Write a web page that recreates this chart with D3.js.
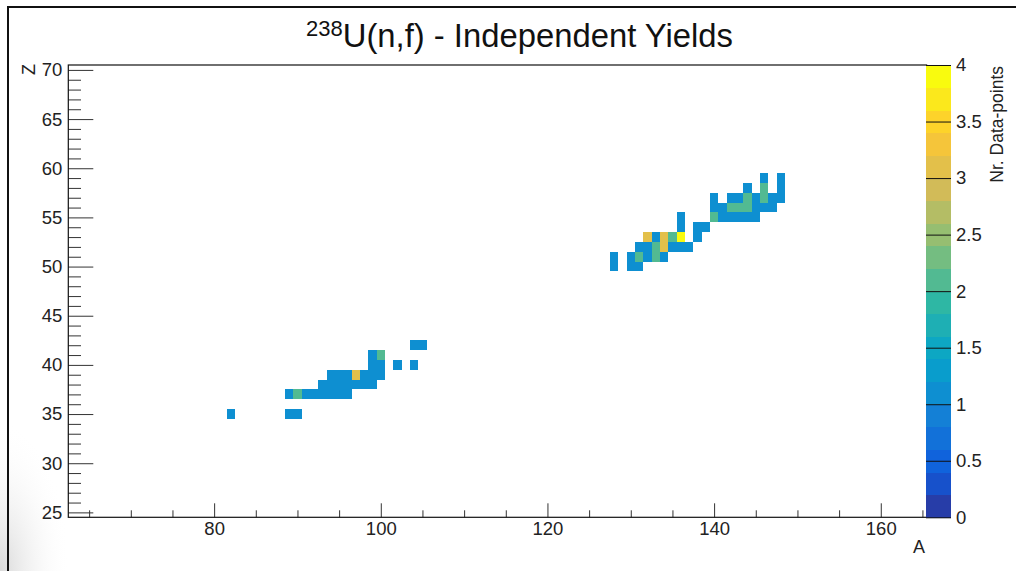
<!DOCTYPE html>
<html>
<head>
<meta charset="utf-8">
<script src="https://cdn.jsdelivr.net/npm/d3@7"></script>
<style>
  html, body { margin: 0; padding: 0; background: #fff; }
  svg { display: block; font-family: "Liberation Sans", Arial, sans-serif; }
</style>
</head>
<body>
<div id="chart"></div>
<script>
// Light fragment (A, Z, number of data points)
const lightA = [82, 89, 90, 89, 90, 91, 92, 93, 94, 95, 96, 93, 94, 95, 96, 97, 98, 99, 94, 95, 96, 97, 98, 99, 100, 99, 100, 102, 104, 99, 100, 104, 105];
const lightZ = [35, 35, 35, 37, 37, 37, 37, 37, 37, 37, 37, 38, 38, 38, 38, 38, 38, 38, 39, 39, 39, 39, 39, 39, 39, 40, 40, 40, 40, 41, 41, 42, 42];
const lightN = [1, 1, 1, 1, 2, 1, 1, 1, 1, 1, 1, 1, 1, 1, 1, 1, 1, 1, 1, 1, 1, 3, 1, 1, 1, 1, 1, 1, 1, 1, 2, 1, 1];

// Heavy fragment
const heavyA = [128, 130, 131,
  128, 130, 131, 132, 133, 134,
  131, 132, 133, 134, 135, 136, 137,
  132, 133, 134, 135, 136, 138,
  136, 138, 139,
  136, 140, 141, 142, 143, 144, 145,
  140, 141, 142, 143, 144, 145, 146, 147,
  140, 142, 143, 144, 145, 146, 147, 148,
  144, 146, 148,
  146, 148];
const heavyZ = [50, 50, 50,
  51, 51, 51, 51, 51, 51,
  52, 52, 52, 52, 52, 52, 52,
  53, 53, 53, 53, 53, 53,
  54, 54, 54,
  55, 55, 55, 55, 55, 55, 55,
  56, 56, 56, 56, 56, 56, 56, 56,
  57, 57, 57, 57, 57, 57, 57, 57,
  58, 58, 58,
  59, 59];
const heavyN = [1, 1, 1,
  1, 1, 2, 1, 2, 1,
  1, 1, 2, 3, 1, 1, 1,
  3, 1, 3, 2, 4, 1,
  1, 1, 1,
  1, 2, 1, 1, 1, 1, 1,
  1, 1, 2, 2, 2, 1, 1, 1,
  1, 1, 1, 2, 1, 2, 1, 1,
  1, 2, 1,
  1, 1];

const xMajor = [80, 100, 120, 140, 160];
const yMajor = [25, 30, 35, 40, 45, 50, 55, 60, 65, 70];
const zTicks = [0, 0.5, 1, 1.5, 2, 2.5, 3, 3.5, 4];

const cells = lightA.map((a, i) => ({ a, z: lightZ[i], n: lightN[i] }))
  .concat(heavyA.map((a, i) => ({ a, z: heavyZ[i], n: heavyN[i] })));

const W = 1016, H = 571;
const svg = d3.select("#chart").append("svg").attr("width", W).attr("height", H);

// soft grey shading in the lower-left corner (slide background)
const defs = svg.append("defs");
const grad = defs.append("radialGradient").attr("id", "shade")
  .attr("cx", 0).attr("cy", 1).attr("r", 1);
grad.append("stop").attr("offset", "0%").attr("stop-color", "#d9d9d9");
grad.append("stop").attr("offset", "100%").attr("stop-color", "#fff").attr("stop-opacity", 0);
svg.append("rect").attr("x", 0).attr("y", 420).attr("width", 70).attr("height", 151).attr("fill", "url(#shade)");

// canvas border
svg.append("path").attr("d", "M8,571V7H1016").attr("fill", "none").attr("stroke", "#111").attr("stroke-width", 2);

const x = d3.scaleLinear().domain([62.5, 165.5]).range([68.3, 926.6]);
const y = d3.scaleLinear().domain([24.5, 70.5]).range([517.3, 65]);
const zScale = d3.scaleLinear().domain([0, 4]).range([517.3, 65]);

// ROOT kBird palette, 20 contour bands
const bird = d3.piecewise(d3.interpolateRgb, [
  "rgb(53,42,135)", "rgb(15,92,221)", "rgb(20,129,214)", "rgb(6,164,202)",
  "rgb(46,183,164)", "rgb(135,191,119)", "rgb(209,187,89)", "rgb(254,200,50)", "rgb(249,251,14)"
]);
const nBands = 20;
const bandColors = d3.range(nBands).map(i => bird(Math.floor((i + 0.99) * 255 / nBands) / 254));
const color = d3.scaleQuantize().domain([0, 4]).range(bandColors);

// cells
svg.append("g").selectAll("rect").data(cells).join("rect")
  .attr("x", d => x(d.a - 0.5))
  .attr("y", d => y(d.z + 0.5))
  .attr("width", d => x(d.a + 0.5) - x(d.a - 0.5))
  .attr("height", d => y(d.z - 0.5) - y(d.z + 0.5))
  .attr("fill", d => color(d.n))
  .attr("shape-rendering", "crispEdges");

const textColor = "#222";

// x axis
const gx = svg.append("g").attr("transform", `translate(0,${y(24.5)})`);
gx.call(d3.axisBottom(x).tickValues(d3.range(65, 166, 5).filter(v => !xMajor.includes(v))).tickSize(-7).tickFormat(""));
gx.call(g => g.select(".domain").remove());
const gxMajor = svg.append("g").attr("transform", `translate(0,${y(24.5)})`)
  .call(d3.axisBottom(x).tickValues(xMajor).tickSize(-14).tickPadding(5).tickFormat(d3.format("d")));
gxMajor.select(".domain").remove();

// y axis
const gy = svg.append("g").attr("transform", `translate(${x(62.5)},0)`)
  .call(d3.axisLeft(y).tickValues(d3.range(25, 71, 1).filter(v => !yMajor.includes(v))).tickSize(-12.7).tickFormat(""));
gy.select(".domain").remove();
const gyMajor = svg.append("g").attr("transform", `translate(${x(62.5)},0)`)
  .call(d3.axisLeft(y).tickValues(yMajor).tickSize(-25).tickPadding(6).tickFormat(d3.format("d")));
gyMajor.select(".domain").remove();

[gx, gxMajor, gy, gyMajor].forEach(g => {
  g.selectAll("line").attr("stroke", "#333");
  g.selectAll("text").attr("fill", textColor).attr("font-size", 18.5).attr("font-family", "Liberation Sans, Arial, sans-serif");
});

// frame
svg.append("rect")
  .attr("x", x(62.5)).attr("y", y(70.5))
  .attr("width", x(165.5) - x(62.5)).attr("height", y(24.5) - y(70.5))
  .attr("fill", "none").attr("stroke", "#111").attr("stroke-width", 1.2);

// axis titles
svg.append("text").attr("x", 925).attr("y", 553).attr("text-anchor", "end")
  .attr("font-size", 18).attr("fill", textColor).text("A");
svg.append("text").attr("transform", "translate(35,64) rotate(-90)").attr("text-anchor", "end")
  .attr("font-size", 18).attr("fill", textColor).text("Z");

// palette
const barX = 926, barW = 25;
const bandStep = 4 / nBands;
svg.append("g").selectAll("rect").data(bandColors).join("rect")
  .attr("x", barX)
  .attr("y", (c, i) => zScale((i + 1) * bandStep))
  .attr("width", barW)
  .attr("height", (c, i) => zScale(i * bandStep) - zScale((i + 1) * bandStep) + 0.5)
  .attr("fill", c => c)
  .attr("shape-rendering", "crispEdges");

const gz = svg.append("g").attr("transform", `translate(${barX + barW},0)`)
  .call(d3.axisRight(zScale).tickValues(zTicks).tickSize(-barW).tickPadding(5).tickFormat(d3.format("")));
gz.select(".domain").remove();
gz.selectAll("line").attr("stroke", "#111");
gz.selectAll("text").attr("fill", textColor).attr("font-size", 18.5).attr("font-family", "Liberation Sans, Arial, sans-serif");

svg.append("text").attr("transform", "translate(1003,66) rotate(-90)").attr("text-anchor", "end")
  .attr("font-size", 17.5).attr("fill", textColor).text("Nr. Data-points");

// title
const title = svg.append("text").attr("x", 306).attr("y", 47).attr("fill", "#111");
title.append("tspan").attr("font-size", 22).attr("dy", -11).text("238");
title.append("tspan").attr("font-size", 32.8).attr("dy", 11).text("U(n,f) - Independent Yields");
</script>
</body>
</html>
